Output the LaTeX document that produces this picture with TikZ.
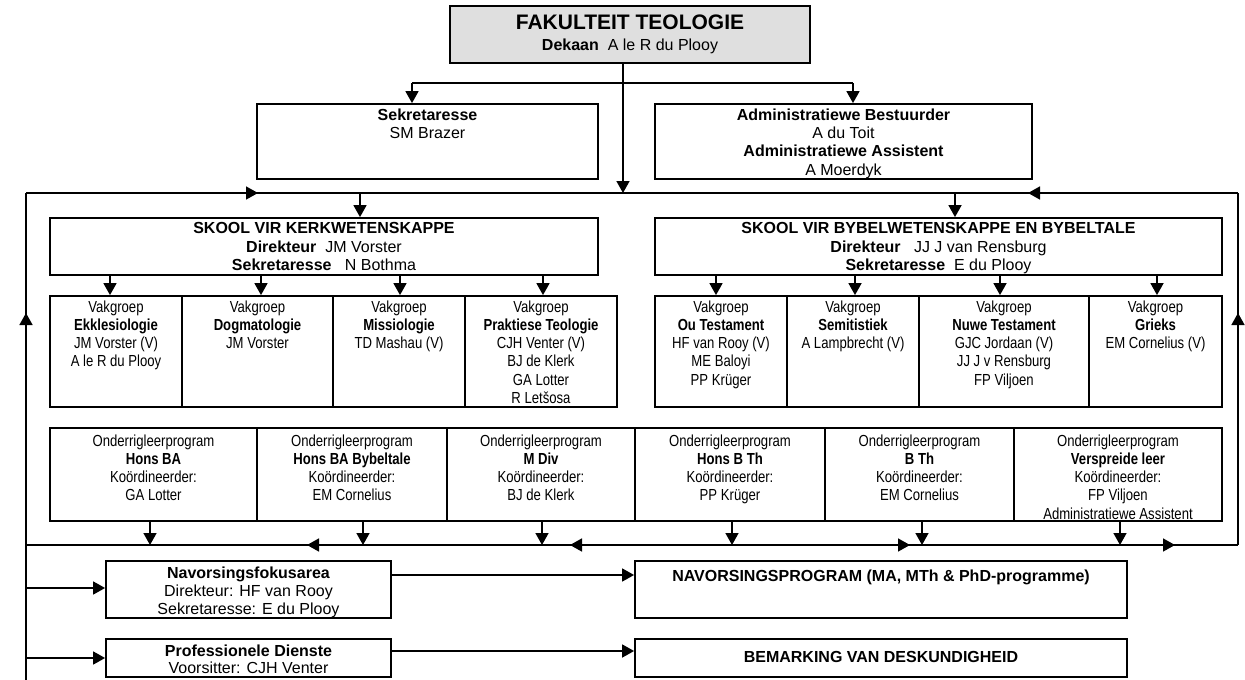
\documentclass[tikz,border=0pt]{standalone}
\usepackage{fontspec}
\setmainfont{Liberation Sans}
\newfontfamily\narrowfont[FakeStretch=0.82]{Liberation Sans}
\usetikzlibrary{arrows.meta,fit}
\begin{document}
\begin{tikzpicture}[x=1pt,y=-1pt,
  box/.style={draw, line width=1.8pt, inner sep=0pt},
  txt/.style={anchor=north, inner sep=0pt, align=center, font={\fontsize{16}{18.4}\selectfont}},
  ntxt/.style={anchor=north, inner sep=0pt, align=center, font={\narrowfont\fontsize{16}{18.3}\selectfont}},
  ln/.style={line width=1.6pt},
  arr/.style={line width=1.6pt, -{Triangle[length=12pt,width=13pt]}}]
\useasboundingbox (0,0) rectangle (1245,680);

% ---------- boxes ----------
\node[box, fill=gray!25, fit={(450,6) (810,63)}] (ft) {};
\node[anchor=base, inner sep=0pt, font={\fontsize{21}{24}\selectfont\bfseries}] (ftT) at (630,29.5) {FAKULTEIT TEOLOGIE};
\node[anchor=base, inner sep=0pt, font={\fontsize{16}{18.4}\selectfont}] (ftD) at (630,50) {\textbf{Dekaan}\ \ A le R du Plooy};

\node[box, fit={(257,104) (598,179)}] (sek) {};
\node[txt] (sekT) at (427.5,108.3) {\textbf{Sekretaresse}\\SM Brazer};

\node[box, fit={(655,104) (1032,179)}] (adm) {};
\node[txt] (admT) at (843.5,108.3) {\textbf{Administratiewe Bestuurder}\\A du Toit\\\textbf{Administratiewe Assistent}\\A Moerdyk};

\node[box, fit={(50,218) (598,275)}] (skk) {};
\node[txt] (skkT) at (324,222.3) {\textbf{SKOOL VIR KERKWETENSKAPPE}\\\textbf{Direkteur}\ \ JM Vorster\\\textbf{Sekretaresse}\ \ \ N Bothma};

\node[box, fit={(655,218) (1222,275)}] (skb) {};
\node[txt] (skbT) at (938.5,222.3) {\textbf{SKOOL VIR BYBELWETENSKAPPE EN BYBELTALE}\\\textbf{Direkteur}\ \ \ JJ J van Rensburg\\\textbf{Sekretaresse}\ \ E du Plooy};

% Vakgroepe
\node[box, fit={(50,296) (182,407)}] (vk1) {};
\node[box, fit={(182,296) (333,407)}] (vk2) {};
\node[box, fit={(333,296) (465,407)}] (vk3) {};
\node[box, fit={(465,296) (617,407)}] (vk4) {};
\node[box, fit={(655,296) (787,407)}] (vk5) {};
\node[box, fit={(787,296) (919,407)}] (vk6) {};
\node[box, fit={(919,296) (1089,407)}] (vk7) {};
\node[box, fit={(1089,296) (1222,407)}] (vk8) {};
\node[ntxt] (vk1T) at (116,300.3) {Vakgroep\\\textbf{Ekklesiologie}\\JM Vorster (V)\\A le R du Plooy};
\node[ntxt] (vk2T) at (257.5,300.3) {Vakgroep\\\textbf{Dogmatologie}\\JM Vorster};
\node[ntxt] (vk3T) at (399,300.3) {Vakgroep\\\textbf{Missiologie}\\TD Mashau (V)};
\node[ntxt] (vk4T) at (541,300.3) {Vakgroep\\\textbf{Praktiese Teologie}\\CJH Venter (V)\\BJ de Klerk\\GA Lotter\\R Letšosa};
\node[ntxt] (vk5T) at (721,300.3) {Vakgroep\\\textbf{Ou Testament}\\HF van Rooy (V)\\ME Baloyi\\PP Krüger};
\node[ntxt] (vk6T) at (853,300.3) {Vakgroep\\\textbf{Semitistiek}\\A Lampbrecht (V)};
\node[ntxt] (vk7T) at (1004,300.3) {Vakgroep\\\textbf{Nuwe Testament}\\GJC Jordaan (V)\\JJ J v Rensburg\\FP Viljoen};
\node[ntxt] (vk8T) at (1155.5,300.3) {Vakgroep\\\textbf{Grieks}\\EM Cornelius (V)};

% Onderrigleerprogramme
\node[box, fit={(50,428) (257,521)}] (ol1) {};
\node[box, fit={(257,428) (447,521)}] (ol2) {};
\node[box, fit={(447,428) (635,521)}] (ol3) {};
\node[box, fit={(635,428) (825,521)}] (ol4) {};
\node[box, fit={(825,428) (1014,521)}] (ol5) {};
\node[box, fit={(1014,428) (1222,521)}] (ol6) {};
\node[ntxt] (ol1T) at (153.5,434.3) {Onderrigleerprogram\\\textbf{Hons BA}\\Koördineerder:\\GA Lotter};
\node[ntxt] (ol2T) at (352,434.3) {Onderrigleerprogram\\\textbf{Hons BA Bybeltale}\\Koördineerder:\\EM Cornelius};
\node[ntxt] (ol3T) at (541,434.3) {Onderrigleerprogram\\\textbf{M Div}\\Koördineerder:\\BJ de Klerk};
\node[ntxt] (ol4T) at (730,434.3) {Onderrigleerprogram\\\textbf{Hons B Th}\\Koördineerder:\\PP Krüger};
\node[ntxt] (ol5T) at (919.5,434.3) {Onderrigleerprogram\\\textbf{B Th}\\Koördineerder:\\EM Cornelius};
\node[ntxt] (ol6T) at (1118,434.3) {Onderrigleerprogram\\\textbf{Verspreide leer}\\Koördineerder:\\FP Viljoen\\Administratiewe Assistent};

% Bottom boxes
\node[box, fit={(106,561) (391,618)}] (nfa) {};
\node[txt, font={\fontsize{16}{18}\selectfont}] (nfaT) at (248.5,566.3) {\textbf{Navorsingsfokusarea}\\Direkteur: HF van Rooy\\Sekretaresse: E du Plooy};
\node[box, fit={(106,639) (391,677)}] (prof) {};
\node[txt, font={\fontsize{16}{17.5}\selectfont}] (profT) at (248.5,644.3) {\textbf{Professionele Dienste}\\Voorsitter: CJH Venter};
\node[box, fit={(635,561) (1127,618)}] (nprog) {};
\node[txt] (nprogT) at (881,569.8) {\textbf{NAVORSINGSPROGRAM (MA, MTh \& PhD-programme)}};
\node[box, fit={(635,639) (1127,677)}] (bem) {};
\node[txt] (bemT) at (881,651.3) {\textbf{BEMARKING VAN DESKUNDIGHEID}};

% ---------- connectors ----------
\coordinate (busL) at (26,193);
\coordinate (busR) at (1238,193);
\coordinate (bbL) at (26,545);
\coordinate (bbR) at (1238,545);
\coordinate (lvB) at (26,680);

% from dean
\coordinate (c1) at (623,83);
\coordinate (bsek) at (412,83);
\coordinate (badm) at (853,83);
\draw[arr] (c1 |- ft.south) -- (c1 |- busL);
\draw[ln] (bsek) -- (badm);
\draw[arr] (bsek) -- (bsek |- sek.north);
\draw[arr] (badm) -- (badm |- adm.north);

% top bus
\coordinate (aT1) at (258,193);
\coordinate (aT2) at (1028,193);
\draw[ln] (busL) -- (busR);
\draw[arr] (busL) -- (aT1);
\draw[arr] (busR) -- (aT2);
\coordinate (dK) at (360,193);
\coordinate (dB) at (955,193);
\draw[arr] (dK) -- (dK |- skk.north);
\draw[arr] (dB) -- (dB |- skb.north);

% school -> vakgroepe
\foreach \x in {110,261,400,543} {
  \coordinate (t) at (\x,0);
  \draw[arr] (t |- skk.south) -- (t |- vk1.north);
}
\foreach \x in {716,855,1000,1157} {
  \coordinate (t) at (\x,0);
  \draw[arr] (t |- skb.south) -- (t |- vk5.north);
}

% onderrig -> bottom bus
\foreach \x/\n in {150/ol1,363/ol2,542/ol3,732/ol4,922/ol5,1120/ol6} {
  \coordinate (t) at (\x,0);
  \draw[arr] (t |- \n.south) -- (t |- bbL);
}

% bottom bus
\draw[ln] (bbL) -- (bbR);
\coordinate (bmid) at (740,545);
\coordinate (ab1) at (570,545);
\coordinate (ab2) at (307,545);
\coordinate (ab3) at (910,545);
\coordinate (ab4) at (1175,545);
\draw[arr] (bmid) -- (ab1);
\draw[arr] (ab1) -- (ab2);
\draw[arr] (bmid) -- (ab3);
\draw[arr] (ab3) -- (ab4);

% verticals
\coordinate (lvA) at (26,313);
\coordinate (rvA) at (1238,313);
\draw[ln] (lvB) -- (busL);
\draw[arr] (lvB) -- (lvA);
\draw[ln] (bbR) -- (busR);
\draw[arr] (bbR) -- (rvA);

% research & services
\coordinate (nA) at (26,588);
\coordinate (pA) at (26,658);
\draw[arr] (nA) -- (nA -| nfa.west);
\draw[arr] (pA) -- (pA -| prof.west);
\coordinate (nB) at (391,575);
\coordinate (pB) at (391,651);
\draw[arr] (nB -| nfa.east) -- (nB -| nprog.west);
\draw[arr] (pB -| prof.east) -- (pB -| bem.west);
\end{tikzpicture}
\end{document}
